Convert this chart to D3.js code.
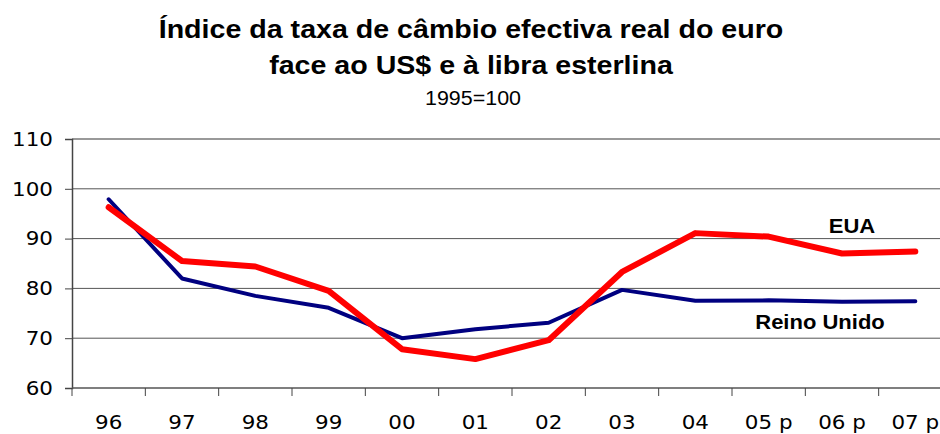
<!DOCTYPE html>
<html>
<head>
<meta charset="utf-8">
<script src="https://cdn.jsdelivr.net/npm/d3@7.9.0/dist/d3.min.js"></script>
<style>
  body { margin: 0; background: #fff; }
  svg { display: block; }
  .bold { font-family: 'Liberation Sans', Arial, sans-serif; font-weight: bold; }
  .axis text { font-family: 'DejaVu Sans', Verdana, sans-serif; fill: #000; }
</style>
</head>
<body>
<svg id="chart" width="940" height="434"></svg>
<script>
const years = ['96', '97', '98', '99', '00', '01', '02', '03', '04', '05 p', '06 p', '07 p'];
const reinoUnido = [97.9, 82.0, 78.5, 76.1, 70.0, 71.8, 73.1, 79.7, 77.5, 77.6, 77.3, 77.4];
const eua = [96.3, 85.5, 84.4, 79.5, 67.8, 65.8, 69.6, 83.3, 91.1, 90.4, 87.0, 87.4];
const yTicks = [60, 70, 80, 90, 100, 110];

// the original picture is a bit wider than tall, so text is stretched sideways
const sx = 1.1;

const svg = d3.select('#chart');
const plotLeft = 72, plotRight = 952, plotTop = 139, plotBottom = 388;

const x = d3.scaleBand().domain(years).range([plotLeft, plotRight]);
const y = d3.scaleLinear().domain([60, 110]).range([plotBottom, plotTop]);

// gridlines
svg.append('g')
  .selectAll('line')
  .data(yTicks.filter((d) => d > 60))
  .join('line')
  .attr('x1', plotLeft)
  .attr('x2', plotRight)
  .attr('y1', (d) => y(d))
  .attr('y2', (d) => y(d))
  .attr('stroke', (d) => (d === 110 ? '#999' : '#555'))
  .attr('stroke-width', (d) => (d === 110 ? 2 : 1));

// y axis
const yAxis = svg.append('g')
  .attr('class', 'axis')
  .attr('transform', `translate(${plotLeft},0)`)
  .call(d3.axisLeft(y).tickValues(yTicks).tickSize(7).tickPadding(0));
yAxis.select('.domain').attr('stroke', '#444').attr('stroke-width', 1.5);
yAxis.selectAll('.tick line').attr('stroke', '#444');
yAxis.selectAll('.tick text')
  .attr('x', 0)
  .attr('font-size', 19.5)
  .attr('transform', `translate(-19,0) scale(${sx},1)`);

// x axis, ticks on category boundaries
const xAxis = svg.append('g')
  .attr('class', 'axis')
  .attr('transform', `translate(0,${plotBottom})`);
xAxis.append('line')
  .attr('x1', plotLeft).attr('x2', plotRight)
  .attr('stroke', '#555').attr('stroke-width', 1.5);
xAxis.selectAll('.tk')
  .data(years)
  .join('line')
  .attr('class', 'tk')
  .attr('x1', (d) => x(d)).attr('x2', (d) => x(d))
  .attr('y1', 0).attr('y2', 8)
  .attr('stroke', '#444');
xAxis.selectAll('text')
  .data(years)
  .join('text')
  .attr('transform', (d) => `translate(${x(d) + x.bandwidth() / 2},41) scale(${sx},1)`)
  .attr('text-anchor', 'middle')
  .attr('font-size', 19.5)
  .text((d) => d);

const line = d3.line()
  .x((d, i) => x(years[i]) + x.bandwidth() / 2)
  .y((d) => y(d));

svg.append('path')
  .datum(reinoUnido)
  .attr('d', line)
  .attr('fill', 'none')
  .attr('stroke', '#000080')
  .attr('stroke-width', 4)
  .attr('stroke-linejoin', 'round')
  .attr('stroke-linecap', 'round');

svg.append('path')
  .datum(eua)
  .attr('d', line)
  .attr('fill', 'none')
  .attr('stroke', '#ff0000')
  .attr('stroke-width', 6)
  .attr('stroke-linejoin', 'round')
  .attr('stroke-linecap', 'round');

function label(txt, cx, baseline, size, cls) {
  svg.append('text')
    .attr('class', cls)
    .attr('transform', `translate(${cx},${baseline}) scale(${sx},1)`)
    .attr('text-anchor', 'middle')
    .attr('font-family', "'Liberation Sans', Arial, sans-serif")
    .attr('font-size', size)
    .text(txt);
}

// series labels
label('EUA', 852, 233, 20, 'bold');
label('Reino Unido', 820, 329, 20, 'bold');

// titles
label('Índice da taxa de câmbio efectiva real do euro', 471, 38, 26, 'bold');
label('face ao US$ e à libra esterlina', 471, 74, 26, 'bold');
label('1995=100', 473, 105, 19.5, '');
</script>
</body>
</html>
